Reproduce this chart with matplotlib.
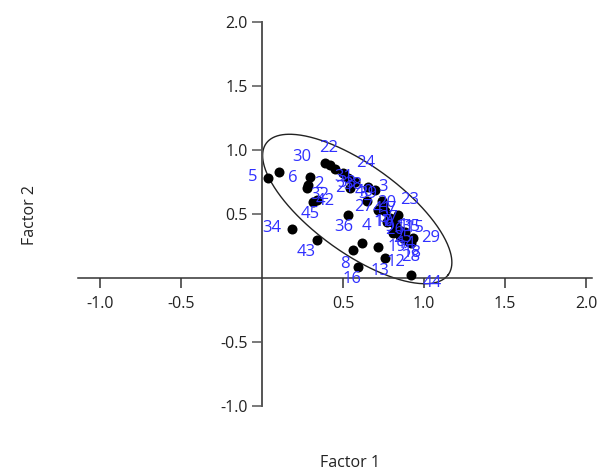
import numpy as np
import matplotlib
matplotlib.use("Agg")
import matplotlib.pyplot as plt

# ---- data -----------------------------------------------------------------
labels = [str(i) for i in range(1, 46)]
factor1 = [0.80, 0.28, 0.656, 0.615, 0.04, 0.296, 0.749, 0.564, 0.83, 0.79,
           0.86, 0.718, 0.76, 0.85, 0.88, 0.595, 0.77, 0.90, 0.81, 0.76,
           0.574, 0.389, 0.84, 0.533, 0.87, 0.82, 0.65, 0.92, 0.93, 0.107,
           0.42, 0.285, 0.45, 0.183, 0.87, 0.533, 0.718, 0.502, 0.70, 0.543,
           0.74, 0.340, 0.337, 0.92, 0.315]
factor2 = [0.44, 0.70, 0.713, 0.271, 0.78, 0.79, 0.57, 0.219, 0.40, 0.47,
           0.37, 0.245, 0.156, 0.33, 0.36, 0.088, 0.44, 0.29, 0.35, 0.52,
           0.75, 0.90, 0.49, 0.78, 0.31, 0.42, 0.60, 0.27, 0.31, 0.83,
           0.88, 0.73, 0.855, 0.38, 0.35, 0.492, 0.531, 0.82, 0.69, 0.70,
           0.60, 0.610, 0.297, 0.023, 0.595]
x_ticks = [-1.0, -0.5, 0.5, 1.0, 1.5, 2.0]
y_ticks = [-1.0, -0.5, 0.5, 1.0, 1.5, 2.0]

# label placement offsets (pixels)
label_dx = [12, 12, 15, 5, -16, -17, 8, -8, -8, -6,
            4, 18, -5, 6, 10, -6, -4, 4, 4, 2,
            -10, 4, 12, 17, 0, 0, -4, 0, 18, 22,
            14, 12, 12, -20, 8, -5, 10, 10, -8, 14,
            0, 8, -10, 21, -3]
label_dy = [-4, 4, 0, 17, 1, -1, -4, -14, 0, -4,
            4, -15, -13, -8, 4, -12, 0, -12, -14, 8,
            -6, 15, 15, 15, 0, -6, -6, -14, 0, 15,
            -12, -10, -14, 1, 6, -12, -8, -12, -4, -4,
            -8, -1, -12, -8, -12]

# confidence ellipse (centre and half-axis vectors, data units)
ELL_CENTER = (0.588, 0.539)
ELL_MAJOR = (0.562, -0.513)
ELL_MINOR = (-0.159, -0.279)

FONT = ["Open Sans", "DejaVu Sans"]
LABEL_BLUE = "#3030ff"

# ---- figure ---------------------------------------------------------------
fig = plt.figure(figsize=(5.98, 4.72), dpi=100)
ax = fig.add_axes([0, 0, 1, 1])
ax.set_xlim(-1.617, 2.074)
ax.set_ylim(-1.516, 2.172)

for s in ("top", "right"):
    ax.spines[s].set_visible(False)
ax.spines["left"].set_position(("data", 0))
ax.spines["bottom"].set_position(("data", 0))
ax.spines["left"].set_bounds(-1.0, 2.0)
ax.spines["bottom"].set_bounds(-1.136, 2.04)
ax.spines["left"].set_color("#555555")
ax.spines["bottom"].set_color("#333333")
ax.spines["left"].set_linewidth(1.4)
ax.spines["bottom"].set_linewidth(1.1)

ax.set_xticks(x_ticks)
ax.set_yticks(y_ticks)
ax.set_xticklabels([f"{v:.1f}" for v in x_ticks], family=FONT, fontsize=11.5)
ax.set_yticklabels([f"{v:.1f}" for v in y_ticks], family=FONT, fontsize=11.5)
ax.tick_params(axis="x", direction="out", length=7, width=1.1, color="#333333",
               pad=6, labelcolor="#222222")
ax.tick_params(axis="y", direction="out", length=7, width=1.1, color="#555555",
               pad=3, labelcolor="#222222")

# ellipse
t = np.linspace(0, 2 * np.pi, 400)
ex = ELL_CENTER[0] + ELL_MAJOR[0] * np.cos(t) + ELL_MINOR[0] * np.sin(t)
ey = ELL_CENTER[1] + ELL_MAJOR[1] * np.cos(t) + ELL_MINOR[1] * np.sin(t)
ax.plot(ex, ey, color="#222222", lw=1.0, zorder=2)

# points
ax.scatter(factor1, factor2, s=52, color="black", zorder=3, linewidths=0)

# point labels
for lab, x, y, dx, dy in zip(labels, factor1, factor2, label_dx, label_dy):
    ax.annotate(lab, (x, y), xytext=(dx, dy), textcoords="offset pixels",
                ha="center", va="center", fontsize=12, family=FONT,
                color=LABEL_BLUE, zorder=4)

# axis titles
fig.text(350 / 598, 1 - 463 / 472, "Factor 1", ha="center", va="center",
         family=FONT, fontsize=11.5, color="#222222")
fig.text(30 / 598, 1 - 215 / 472, "Factor 2", ha="center", va="center",
         rotation=90, family=FONT, fontsize=11.5, color="#222222")

fig.savefig("out.png", dpi=100)
